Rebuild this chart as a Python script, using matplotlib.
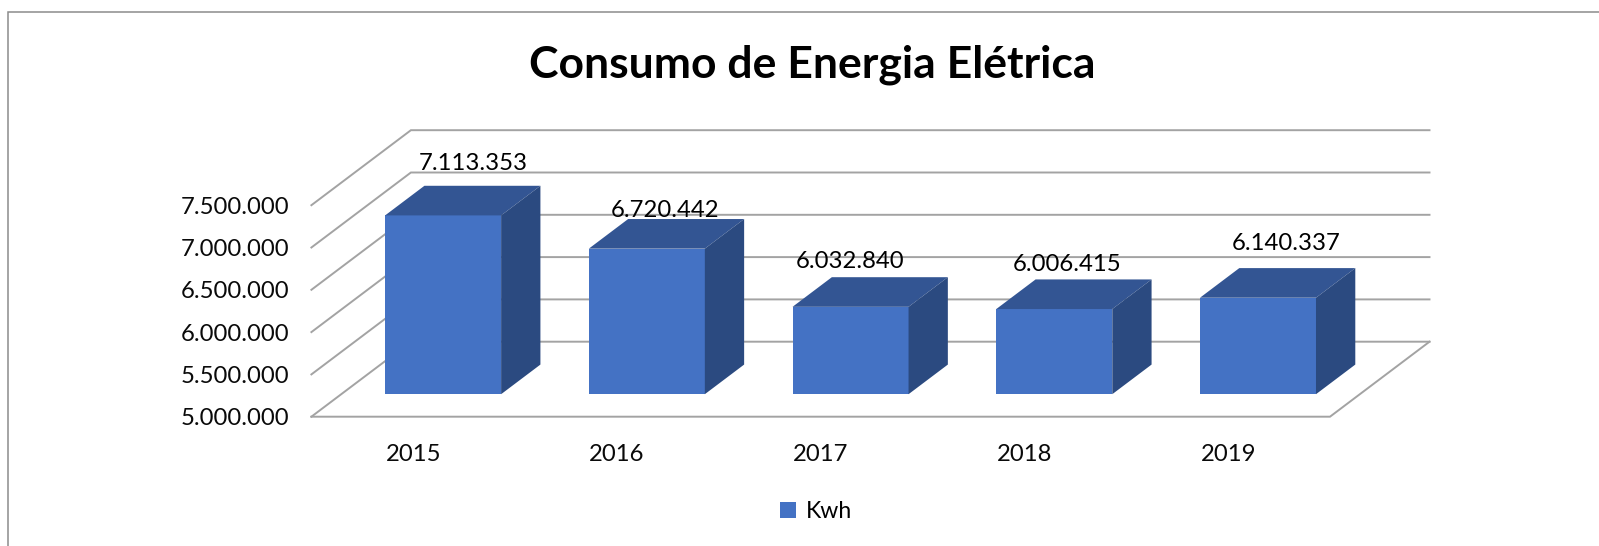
import matplotlib
matplotlib.use("Agg")
import matplotlib.pyplot as plt
from matplotlib.lines import Line2D
from matplotlib.patches import Polygon

W, H = 1599, 546
plt.rcParams['font.family'] = ['Lato', 'DejaVu Sans']

title = "Consumo de Energia Elétrica"
years = ["2015", "2016", "2017", "2018", "2019"]
kwh = [7113353, 6720442, 6032840, 6006415, 6140337]
y_ticks = [5000000, 5500000, 6000000, 6500000, 7000000, 7500000]
series_name = "Kwh"

# pixel nudges of each value label relative to the bar's front-centre / back-top
label_dx = [30, 18, 0, 13, 28]
label_dy = [22, 9, 16, 15, 25]

BLUE, TOP, SIDE = "#4472C4", "#335593", "#2B4A80"
GRID = "#A3A3A3"
FRAME = "#8C8C8C"

def fmt(v):
    return f"{v:,}".replace(",", ".")

fig = plt.figure(figsize=(W / 100, H / 100), dpi=100, facecolor="white")
L, R, T, B = 311.4, 1330.0, 205.2, 416.7
ax = fig.add_axes([L / W, (H - B) / H, (R - L) / W, (B - T) / H])
ax.patch.set_alpha(0)
ax.set_xlim(-0.5, 4.5)
ax.set_ylim(5000000, 7500000)
for s in ax.spines.values():
    s.set_visible(False)

# depth of the chart box in data units
DX = 99.5 / ((R - L) / 5)
DY = 75.0 / ((B - T) / 2500000)
x0, x1 = ax.get_xlim()
lw = 1.4

# walls and floor
for v in y_ticks:
    ax.plot([x0, x0 + DX, x1 + DX], [v, v + DY, v + DY], color=GRID, lw=lw,
            clip_on=False, zorder=1, solid_joinstyle="miter")
ax.plot([x0, x1, x1 + DX], [y_ticks[0], y_ticks[0], y_ticks[0] + DY], color=GRID,
        lw=lw, clip_on=False, zorder=1, solid_joinstyle="miter")

# 3D bars
bw = 116.0 / ((R - L) / 5)
f, b = 0.30, 0.695
base = y_ticks[0]
xs = list(range(len(years)))
bars = ax.bar([x + f * DX for x in xs], [v - base for v in kwh], width=bw,
              bottom=base + f * DY, color=BLUE, label=series_name, zorder=3,
              clip_on=False)
for x, v in zip(xs, kwh):
    xl = x + f * DX - bw / 2
    xr = xl + bw
    ddx, ddy = (b - f) * DX, (b - f) * DY
    yt = v + f * DY
    yb = base + f * DY
    ax.add_patch(Polygon([(xl, yt), (xr, yt), (xr + ddx, yt + ddy), (xl + ddx, yt + ddy)],
                         closed=True, fc=TOP, ec="none", zorder=3, clip_on=False))
    ax.add_patch(Polygon([(xr, yb), (xr + ddx, yb + ddy), (xr + ddx, yt + ddy), (xr, yt)],
                         closed=True, fc=SIDE, ec="none", zorder=3, clip_on=False))

# value labels
for x, v, ox, oy in zip(xs, kwh, label_dx, label_dy):
    ax.annotate(fmt(v), xy=(x + f * DX, v + b * DY), xytext=(ox * 0.72, oy * 0.72),
                textcoords="offset points", ha="center", va="center",
                fontsize=17.2, color="#000000", zorder=5, annotation_clip=False)

ax.set_xticks(xs, years)
ax.set_yticks(y_ticks, [fmt(v) for v in y_ticks])
ax.tick_params(axis="both", length=0, labelsize=17.2, labelcolor="#0A0A0A")
ax.tick_params(axis="y", pad=16)
ax.tick_params(axis="x", pad=20)

fig.text(812 / W, 1 - 65 / H, title, ha="center", va="center", fontsize=32,
         fontweight="bold", color="#000000")

leg = fig.legend(handles=[bars], labels=[series_name], loc="center",
                 bbox_to_anchor=(816 / W, 1 - 512 / H), frameon=False, fontsize=16.6,
                 handlelength=0.68, handleheight=0.68, handletextpad=0.45)

# outer frame, open to the right and the bottom
fig.add_artist(Line2D([7.5 / W, 7.5 / W, 1], [0, 1 - 11.7 / H, 1 - 11.7 / H],
                      color=FRAME, lw=1.1, solid_joinstyle="miter"))

fig.savefig("out.png", dpi=100)
